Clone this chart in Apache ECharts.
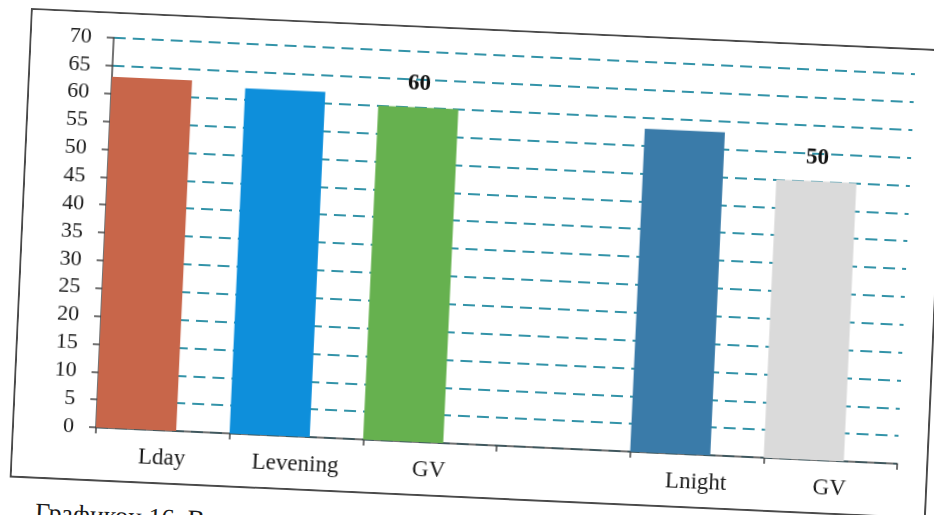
<!DOCTYPE html>
<html>
<head>
<meta charset="utf-8">
<script src="https://cdn.jsdelivr.net/npm/echarts@6/dist/echarts.min.js"></script>
<style>
  html, body { margin: 0; padding: 0; background: #fff; width: 934px; height: 515px; overflow: hidden; }
  /* the scan is tilted a little, so the whole figure is turned */
  #wrap { position: absolute; left: 31px; top: 8px; transform-origin: 0 0; transform: rotate(2.6deg); }
  #frame { position: relative; width: 917px; height: 470px; border: 2px solid #4a4a4a; box-sizing: border-box; background: #fff; }
  #main { width: 913px; height: 466px; }
  .caption { position: absolute; left: 27px; top: 489px; font: 26px "Liberation Serif", serif; color: #1a1a1a; white-space: nowrap; }
</style>
</head>
<body>
<div id="wrap">
  <div id="frame"><div id="main"></div></div>
  <div class="caption">Графикон 16. В</div>
</div>
<script>
// categories and values
const categories = ['Lday', 'Levening', 'GV', '', 'Lnight', 'GV'];
const values = [63, 62, 60, '-', 58, 50];
const barColors = ['#c8664a', '#0e8fdb', '#66b14f', '#ffffff', '#3a7ba9', '#dadada'];
const labelled = [2, 5]; // only the GV limits carry a value label

const serif = '"Liberation Serif", "Times New Roman", serif';

let myChart = echarts.init(document.getElementById('main'));

let barData = values.map((v, i) => ({
  value: v,
  itemStyle: { color: barColors[i] },
  label: { show: labelled.includes(i) }
}));

let option = {
  animation: false,
  backgroundColor: '#fff',
  grid: {
    left: 82,
    top: 24,
    right: 29,
    bottom: 52,
    outerBoundsMode: 'none'
  },
  xAxis: {
    type: 'category',
    data: categories,
    boundaryGap: true,
    axisLine: { lineStyle: { color: '#444', width: 1.5 } },
    axisTick: { show: true, length: 6, lineStyle: { color: '#444', width: 1.5 } },
    axisLabel: {
      margin: 16,
      fontFamily: serif,
      fontSize: 23,
      color: '#1a1a1a'
    },
    splitLine: { show: false }
  },
  yAxis: {
    type: 'value',
    min: 0,
    max: 70,
    interval: 5,
    axisLine: { show: true, lineStyle: { color: '#444', width: 1.5 } },
    axisTick: { show: true, length: 7, lineStyle: { color: '#444', width: 1.5 } },
    axisLabel: {
      margin: 22,
      fontFamily: serif,
      fontSize: 22,
      color: '#1a1a1a'
    },
    splitLine: {
      show: true,
      lineStyle: { color: '#3393a8', width: 1.8, type: [12, 7] }
    }
  },
  series: [
    {
      name: 'level',
      type: 'bar',
      barWidth: '60%',
      barGap: 0,
      data: barData,
      label: {
        position: 'top',
        distance: 12,
        formatter: '{c}',
        fontFamily: serif,
        fontWeight: 'bold',
        fontSize: 23,
        color: '#111'
      }
    },
    {
      // empty second series, it only pushes the bars to the left side of each slot
      name: 'spacer',
      type: 'bar',
      barWidth: '40%',
      barGap: 0,
      data: categories.map(() => '-')
    }
  ]
};

myChart.setOption(option);
</script>
</body>
</html>
